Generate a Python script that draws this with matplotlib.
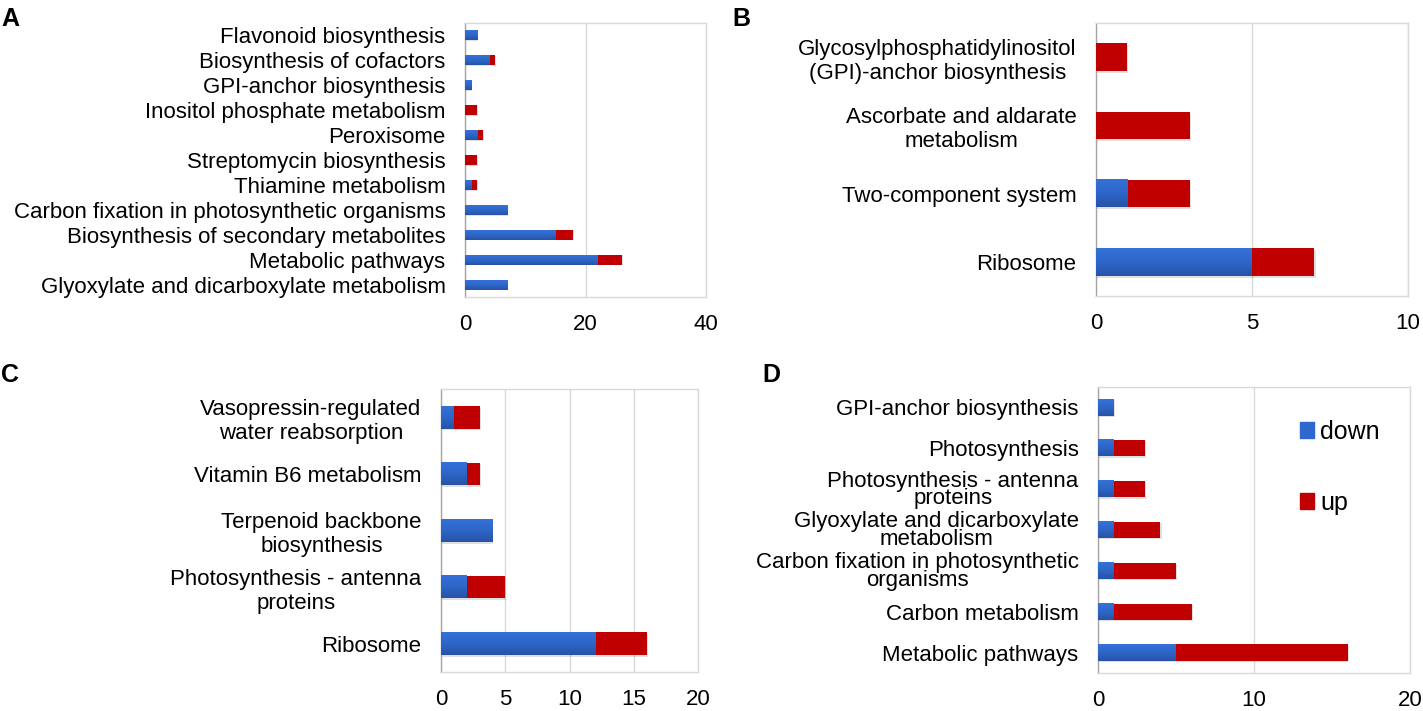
import matplotlib
matplotlib.use("Agg")
import matplotlib.pyplot as plt
import numpy as np
from matplotlib.patches import Patch
from matplotlib.colors import LinearSegmentedColormap

plt.rcParams['font.family'] = ['Liberation Sans', 'DejaVu Sans']

# Panel A
a_cats = ["Flavonoid biosynthesis", "Biosynthesis of cofactors", "GPI-anchor biosynthesis",
          "Inositol phosphate metabolism", "Peroxisome", "Streptomycin biosynthesis",
          "Thiamine metabolism", "Carbon fixation in photosynthetic organisms",
          "Biosynthesis of secondary metabolites", "Metabolic pathways",
          "Glyoxylate and dicarboxylate metabolism"]
a_down = [2, 4, 1, 0, 2, 0, 1, 7, 15, 22, 7]
a_up = [0, 1, 0, 2, 1, 2, 1, 0, 3, 4, 0]
a_ticks = [0, 20, 40]

# Panel B
b_cats = ["Glycosylphosphatidylinositol\n(GPI)-anchor biosynthesis",
          "Ascorbate and aldarate\nmetabolism", "Two-component system", "Ribosome"]
b_down = [0, 0, 1, 5]
b_up = [1, 3, 2, 2]
b_ticks = [0, 5, 10]

# Panel C
c_cats = ["Vasopressin-regulated\nwater reabsorption", "Vitamin B6 metabolism",
          "Terpenoid backbone\nbiosynthesis", "Photosynthesis - antenna\nproteins", "Ribosome"]
c_down = [1, 2, 4, 2, 12]
c_up = [2, 1, 0, 3, 4]
c_ticks = [0, 5, 10, 15, 20]

# Panel D
d_cats = ["GPI-anchor biosynthesis", "Photosynthesis", "Photosynthesis - antenna\nproteins",
          "Glyoxylate and dicarboxylate\nmetabolism", "Carbon fixation in photosynthetic\norganisms",
          "Carbon metabolism", "Metabolic pathways"]
d_down = [1, 1, 1, 1, 1, 1, 5]
d_up = [0, 2, 2, 3, 4, 5, 11]
d_ticks = [0, 10, 20]

BLUE = "#2E68CE"
RED = "#C00000"
FS = 16
blue_cmap = LinearSegmentedColormap.from_list("bg", ["#2653A6", "#2E66C8", "#3471D8"])
grad = np.linspace(0, 1, 64).reshape(-1, 1)

W, H = 1423, 711
fig = plt.figure(figsize=(W / 100, H / 100), dpi=100)


def panel(rect, cats, down, up, ticks, linesp=1.2):
    l, t, r, b = rect
    ax = fig.add_axes([l / W, 1 - b / H, (r - l) / W, (b - t) / H])
    n = len(cats)
    ys = list(range(n))[::-1]
    # soft shadow
    tot = [d + u for d, u in zip(down, up)]
    span = ticks[-1] - ticks[0]
    ax.barh([y - 0.03 for y in ys], tot, left=[span * 0.004] * n, height=0.4,
            color='#000000', alpha=0.12, zorder=2, linewidth=0)
    bars_d = ax.barh(ys, down, height=0.4, color=BLUE, zorder=3, linewidth=0)
    ax.barh(ys, up, left=down, height=0.4, color=RED, zorder=3, linewidth=0)
    for p in bars_d.patches:
        w = p.get_width()
        if w <= 0:
            continue
        x0, y0, h = p.get_x(), p.get_y(), p.get_height()
        ax.imshow(grad, cmap=blue_cmap, extent=[x0, x0 + w, y0, y0 + h], origin='lower',
                  aspect='auto', zorder=3.5, interpolation='bilinear')
    ax.set_ylim(-0.5, n - 0.5)
    ax.set_xlim(ticks[0], ticks[-1])
    ax.set_aspect('auto')
    ax.set_xticks(ticks)
    ax.set_xticklabels([str(t) for t in ticks], fontsize=FS)
    ax.set_yticks(ys)
    ax.set_yticklabels(cats, fontsize=FS)
    for lab in ax.get_yticklabels():
        lab.set_multialignment('center')
        lab.set_linespacing(linesp)
    ax.tick_params(axis='both', length=0)
    ax.tick_params(axis='y', pad=14)
    ax.tick_params(axis='x', pad=12)
    ax.grid(axis='x', color='#D9D9D9', linewidth=1, zorder=0)
    for s in ax.spines.values():
        s.set_color('#D9D9D9')
        s.set_linewidth(1)
    ax.spines['left'].set_color('#A6A6A6')
    return ax


axA = panel((465, 23, 706, 297), a_cats, a_down, a_up, a_ticks)
axB = panel((1096, 23, 1408, 296), b_cats, b_down, b_up, b_ticks)
axC = panel((441, 389, 698, 672), c_cats, c_down, c_up, c_ticks)
axD = panel((1098, 387, 1410, 673), d_cats, d_down, d_up, d_ticks, linesp=0.8)

handles = [Patch(color=BLUE, label='down'), Patch(color=RED, label='up')]
axD.legend(handles=handles, loc='upper left', bbox_to_anchor=(0.575, 0.965), frameon=False,
           fontsize=18, handlelength=0.55, handleheight=0.6, handletextpad=0.25,
           labelspacing=1.9)

for letter, x, y in [("A", 1, 7), ("B", 732, 7), ("C", 1, 363), ("D", 762, 363)]:
    fig.text(x / W, 1 - y / H, letter, fontsize=18, fontweight='bold', ha='left', va='top')

fig.savefig("out.png", dpi=100)
